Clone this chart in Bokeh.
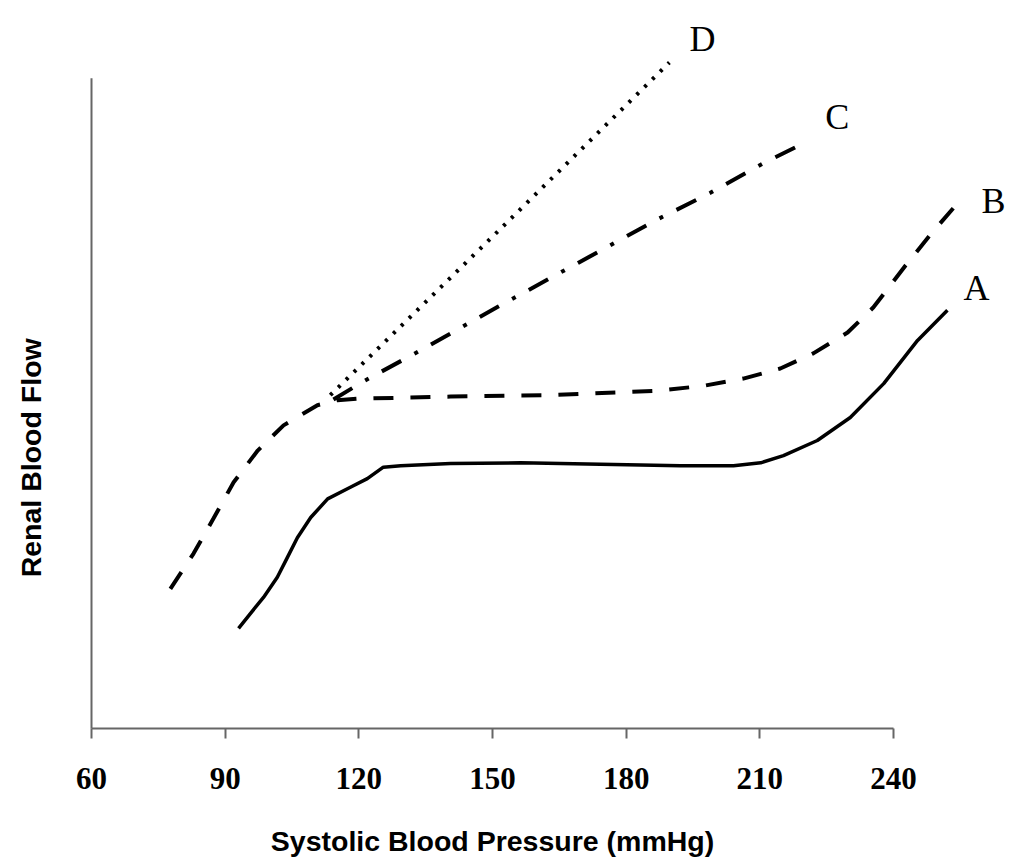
import math
from bokeh.plotting import figure
from bokeh.models import Range1d, Label, FixedTicker, LinearAxis
from bokeh.embed import file_html
from bokeh.resources import INLINE

# ---- data ----
x_ticks = [60, 90, 120, 150, 180, 210, 240]

pressure_a = [93.0, 95.7, 98.6, 101.7, 104.0, 106.2, 109.2, 113.0, 118.1, 121.9, 125.5,
              129.4, 140.6, 156.3, 174.2, 192.2, 204.1, 210.2, 215.3, 222.9, 230.3,
              237.8, 245.4, 252.1]
flow_a = [13.9, 16.0, 18.2, 21.0, 23.8, 26.5, 29.3, 31.9, 33.5, 34.7, 36.3,
          36.5, 36.8, 36.9, 36.7, 36.5, 36.5, 36.9, 37.9, 40.0, 43.2,
          47.9, 53.9, 58.1]

pressure_b = [77.7, 82.9, 87.4, 91.9, 97.3, 103.1, 110.7, 115.2, 119.7, 140.6, 163.0,
              187.0, 197.4, 206.3, 214.6, 222.0, 229.7, 235.5, 242.7, 248.3, 253.9]
flow_b = [19.4, 24.3, 29.2, 34.2, 38.6, 42.1, 44.9, 45.6, 45.8, 46.1, 46.3,
          46.9, 47.6, 48.6, 50.0, 52.1, 55.0, 58.5, 64.3, 68.6, 72.6]

pressure_c = [114.3, 121.0, 133.8, 151.3, 169.3, 187.0, 198.9, 210.8, 220.2]
flow_c = [45.7, 48.2, 52.5, 58.6, 64.7, 70.7, 74.4, 78.5, 81.4]

pressure_d = [113.6, 151.8, 189.7]
flow_d = [46.3, 69.4, 92.5]

curve_names = ["A", "B", "C", "D"]
x_title = "Systolic Blood Pressure (mmHg)"
y_title = "Renal Blood Flow"
y_axis_top = 90.3

# ---- layout constants ----
W, H = 1010, 862
X_PX = 802 / 180.0          # pixels per mmHg
Y_PX = 7.2                  # pixels per flow unit
AXIS_X_PX = 91              # page x of the y axis (x = 60)
AXIS_Y_PX = 728             # page y of the x axis (flow = 0)
AXIS_COLOR = "#666666"

x0 = x_ticks[0] - AXIS_X_PX / X_PX
y0 = -(H - AXIS_Y_PX) / Y_PX
p = figure(width=W, height=H,
           x_range=Range1d(x0, x0 + W / X_PX),
           y_range=Range1d(y0, y0 + H / Y_PX),
           x_axis_location=None, y_axis_location=None,
           output_backend="svg", toolbar_location=None,
           min_border_left=0, min_border_right=0,
           min_border_top=0, min_border_bottom=0)
p.grid.visible = False
p.outline_line_color = None
p.background_fill_color = "white"
p.border_fill_color = "white"

xa = LinearAxis(fixed_location=0)
xa.ticker = FixedTicker(ticks=x_ticks)
xa.bounds = (x_ticks[0], x_ticks[-1])
xa.axis_line_color = AXIS_COLOR
xa.axis_line_width = 2
xa.major_tick_line_color = AXIS_COLOR
xa.major_tick_line_width = 2
xa.major_tick_out = 10
xa.major_tick_in = 0
xa.minor_tick_line_color = None
xa.major_label_text_font = "Liberation Serif"
xa.major_label_text_font_style = "bold"
xa.major_label_text_font_size = "31px"
xa.major_label_text_color = "black"
xa.major_label_standoff = 29
p.add_layout(xa, "below")

# y axis line (no ticks in the reference)
p.segment(x0=[x_ticks[0]], y0=[0], x1=[x_ticks[0]], y1=[y_axis_top],
          line_color=AXIS_COLOR, line_width=2)

label_style = dict(text_font="Liberation Sans", text_font_style="bold",
                   text_font_size="28.5px", text_color="black",
                   text_align="center", text_baseline="middle")
p.add_layout(Label(x=(x_ticks[0] + x_ticks[-1]) / 2, y=0, y_offset=-112,
                   text=x_title, **label_style))
p.add_layout(Label(x=x_ticks[0], y=37.6, x_offset=-61, angle=math.pi / 2,
                   text=y_title, **label_style))

p.line(pressure_a, flow_a, line_color="black", line_width=3.5, line_join="round")
p.line(pressure_b, flow_b, line_color="black", line_width=4, line_dash="20 17")
p.line(pressure_c, flow_c, line_color="black", line_width=4, line_dash="22 15 4 15")
p.line(pressure_d, flow_d, line_color="black", line_width=4, line_dash="3 8")

series = [(pressure_a, flow_a), (pressure_b, flow_b), (pressure_c, flow_c), (pressure_d, flow_d)]
offsets = [(29, 22), (38, 5), (32, 25), (33, 24)]
for name, (xs, ys), (dx, dy) in zip(curve_names, series, offsets):
    p.add_layout(Label(x=xs[-1], y=ys[-1], x_offset=dx, y_offset=dy, text=name,
                       text_align="center", text_baseline="middle",
                       text_font="Liberation Serif", text_font_size="36px",
                       text_color="black"))

open("out.html", "w").write(file_html(p, INLINE))
